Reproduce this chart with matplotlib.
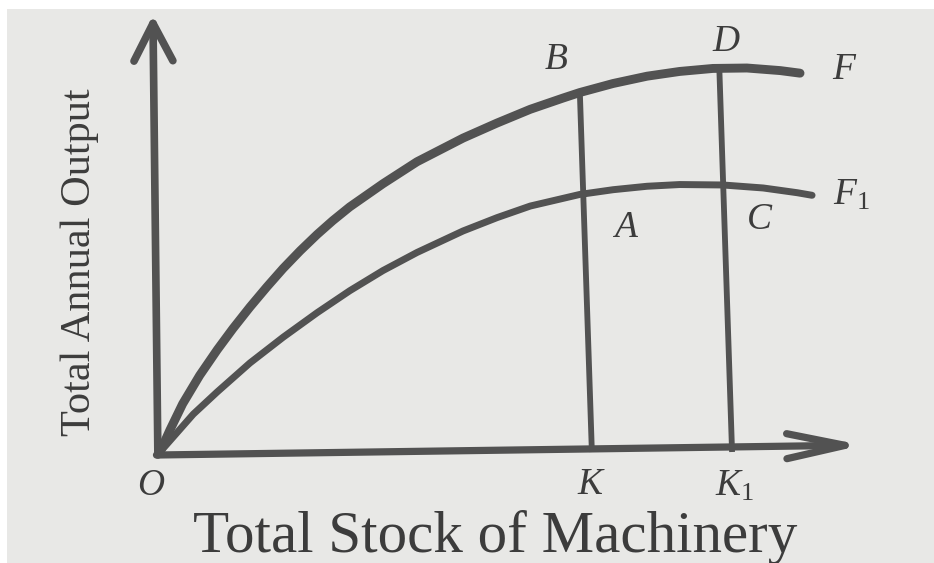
import matplotlib
matplotlib.use("Agg")
import matplotlib.pyplot as plt
from matplotlib.patches import Rectangle

# ---- data (arbitrary units) ----
f_x = [0.0, 0.14, 0.32, 0.56, 0.81, 1.03, 1.27, 1.51, 1.74, 1.98, 2.22, 2.44, 2.68,
       3.15, 3.63, 4.28, 4.76, 5.23, 5.69, 5.93, 6.40, 6.88, 7.34, 7.81, 8.29,
       8.76, 9.04]
f_y = [0.0, 0.51, 1.12, 1.78, 2.38, 2.87, 3.37, 3.84, 4.27, 4.68, 5.06, 5.38, 5.70,
       6.24, 6.75, 7.30, 7.65, 7.97, 8.23, 8.36, 8.57, 8.74, 8.85, 8.92, 8.93,
       8.87, 8.81]

f1_x = [0.0, 0.47, 0.81, 1.27, 1.74, 2.22, 2.68, 3.15, 3.63, 4.28, 4.76, 5.23,
        5.93, 6.40, 6.88, 7.34, 7.95, 8.52, 9.00, 9.21]
f1_y = [0.0, 0.88, 1.40, 2.07, 2.67, 3.24, 3.75, 4.22, 4.64, 5.14, 5.45, 5.72,
        5.99, 6.10, 6.18, 6.22, 6.21, 6.14, 6.03, 5.97]

k_line_x = [6.10, 5.93]      # bottom, top (hand drawn, slightly leaning)
k_line_y = [0.0, 8.36]
k1_line_x = [8.08, 7.90]
k1_line_y = [0.0, 8.92]

x_label = "Total Stock of Machinery"
y_label = "Total Annual Output"

# ---- style ----
BG = "#e8e8e6"
INK = "#525252"
TXT = "#3c3c3c"
W, H, DPI = 934, 563, 100

plt.rcParams["font.family"] = ["Liberation Serif", "DejaVu Serif"]
plt.rcParams["mathtext.fontset"] = "custom"
plt.rcParams["mathtext.rm"] = "Liberation Serif"
plt.rcParams["mathtext.it"] = "Liberation Serif:italic"

fig = plt.figure(figsize=(W / DPI, H / DPI), dpi=DPI, facecolor="white")
fig.add_artist(Rectangle((7 / W, 0), 1 - 7 / W, 1 - 9 / H, transform=fig.transFigure,
                         facecolor=BG, edgecolor="none", zorder=-10))

# axes: origin at pixel (160, 452); 10 x-units = 708 px, 10 y-units = 430 px
ax = fig.add_axes([160 / W, (H - 452) / H, 708 / W, 430 / H])
ax.set_xlim(0, 10)
ax.set_ylim(0, 10)
ax.axis("off")
ax.patch.set_alpha(0)

# axes with open arrowheads
ax.annotate("", xy=(9.92, 0.16), xytext=(-0.05, -0.07),
            arrowprops=dict(arrowstyle="->,head_length=42,head_width=9", mutation_scale=1,
                            lw=5.2, color=INK, shrinkA=0, shrinkB=0,
                            joinstyle="round", capstyle="round"),
            annotation_clip=False)
ax.annotate("", xy=(-0.10, 10.16), xytext=(-0.03, -0.07),
            arrowprops=dict(arrowstyle="->,head_length=27,head_width=14", mutation_scale=1,
                            lw=5.5, color=INK, shrinkA=0, shrinkB=0,
                            joinstyle="round", capstyle="round"),
            annotation_clip=False)

# curves
ax.plot(f_x, f_y, color=INK, lw=6.4, solid_capstyle="round", solid_joinstyle="round", clip_on=False)
ax.plot(f1_x, f1_y, color=INK, lw=5.0, solid_capstyle="round", solid_joinstyle="round", clip_on=False)

# vertical lines
ax.plot(k_line_x, k_line_y, color=INK, lw=4.2, solid_capstyle="butt", clip_on=False)
ax.plot(k1_line_x, k1_line_y, color=INK, lw=4.2, solid_capstyle="butt", clip_on=False)

# point labels
lab = dict(color=TXT, fontsize=27, style="italic", ha="center", va="center")
ax.text(5.59, 9.12, "B", **lab)
ax.text(7.99, 9.53, "D", **lab)
ax.text(9.65, 8.88, "F", **lab)
ax.text(9.77, 5.98, r"$F_{\mathit{1}}$", color=TXT, fontsize=27, ha="center", va="center")
ax.text(6.58, 5.21, "A", **lab)
ax.text(8.47, 5.40, "C", **lab)
ax.text(-0.13, -0.79, "O", **lab)
ax.text(6.07, -0.77, "K", **lab)
ax.text(8.12, -0.79, r"$K_{\mathit{1}}$", color=TXT, fontsize=27, ha="center", va="center")

# axis titles
ax.text(4.73, -1.98, x_label, color=TXT, fontsize=42.5, ha="center", va="center")
ax.text(-1.13, 4.42, y_label, color=TXT, fontsize=30.5, ha="center", va="center", rotation=90)

fig.savefig("out.png", dpi=DPI, facecolor=fig.get_facecolor())
